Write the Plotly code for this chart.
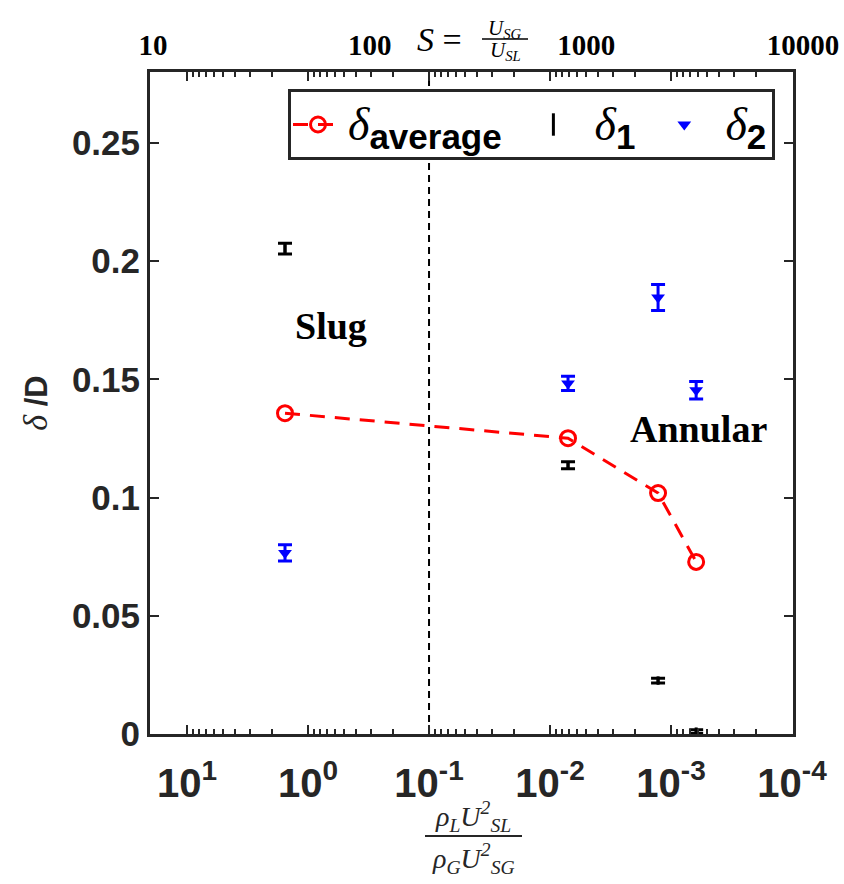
import plotly.graph_objects as go

# ---- data ----
ratio_x = [1.55, 0.0071, 0.00128, 0.00062]          # rho_L U_SL^2 / rho_G U_SG^2
delta_avg = [0.1357, 0.1251, 0.1019, 0.0728]
delta1 = [0.2053, 0.1137, 0.0226, 0.0010]
delta1_err = [0.0023, 0.0015, 0.0010, 0.0008]
delta2 = [0.0766, 0.1483, 0.1846, 0.1454]
delta2_err = [0.0034, 0.0030, 0.0055, 0.0037]
boundary_x = [0.1, 0.1]
boundary_y = [0.0, 0.28]

x_tickvals = [10, 1, 0.1, 0.01, 0.001, 0.0001]
x_ticktext = ["10<sup>1</sup>", "10<sup>0</sup>", "10<sup>-1</sup>", "10<sup>-2</sup>",
              "10<sup>-3</sup>", "10<sup>-4</sup>"]
x_minor_tickvals = [m * d for d in [10, 1, 0.1, 0.01, 0.001, 0.0001] for m in range(2, 10)]
y_tickvals = [0, 0.05, 0.1, 0.15, 0.2, 0.25]
y_ticktext = ["0", "0.05", "0.1", "0.15", "0.2", "0.25"]
s_tickvals = [10, 100, 1000, 10000]
s_ticktext = ["10", "100", "1000", "10000"]

SANS = "Liberation Sans, Arial, sans-serif"
SERIF = "Liberation Serif, Times New Roman, serif"


def pad(npx):
    n = max(1, round(npx / 2.78))
    return "<span style='font-size:10px'>" + "\u00a0" * n + "</span>"


def delta_name(sub, dsize=46, ssize=35):
    return ("<span style='font-family:Liberation Serif;font-style:italic;font-weight:normal;"
            f"font-size:{dsize}px'>δ</span><sub><span style='font-weight:bold;font-size:{ssize}px'>"
            f"{sub}</span></sub>")


fig = go.Figure()

fig.add_trace(go.Scatter(
    x=boundary_x, y=boundary_y, mode="lines", showlegend=False, hoverinfo="skip",
    line=dict(color="black", width=2, dash="7px,5px")))

fig.add_trace(go.Scatter(
    x=ratio_x, y=delta_avg, mode="lines+markers",
    name=delta_name("average") + pad(17),
    line=dict(color="#ff0000", width=3, dash="15px,10px"),
    marker=dict(symbol="circle-open", size=15, color="#ff0000", line=dict(width=3, color="#ff0000"))))

fig.add_trace(go.Scatter(
    x=ratio_x, y=delta1, mode="markers", showlegend=False, legendgroup="d1",
    marker=dict(symbol="line-ns", size=6, color="black", line=dict(width=3, color="black")),
    error_y=dict(type="data", array=delta1_err, visible=True, color="black", thickness=3, width=7)))
fig.add_trace(go.Scatter(
    x=[None], y=[None], mode="markers", legendgroup="d1",
    name=pad(10) + delta_name("1") + pad(13),
    marker=dict(symbol="line-ns", size=16, color="black", line=dict(width=3, color="black"))))

fig.add_trace(go.Scatter(
    x=ratio_x, y=delta2, mode="markers",
    name=pad(10) + delta_name("2"),
    marker=dict(symbol="triangle-down", size=12, color="#0000ff"),
    error_y=dict(type="data", array=delta2_err, visible=True, color="#0000ff", thickness=3, width=7)))

# dummy trace to carry the top S axis
fig.add_trace(go.Scatter(x=s_tickvals, y=[None] * 4, xaxis="x2", yaxis="y",
                         mode="markers", showlegend=False, hoverinfo="skip"))

W, H = 844, 884
L, R, T, B = 150, 30, 72, 150
PW = W - L - R
PH = H - T - B


def px(xp):
    return (xp - L) / PW


def py(yp):
    return (H - B - yp) / PH


fig.update_layout(
    width=W, height=H,
    margin=dict(l=L, r=R, t=T, b=B, autoexpand=False),
    paper_bgcolor="white", plot_bgcolor="rgba(0,0,0,0)",
    showlegend=True,
    legend=dict(orientation="h", x=px(288), y=py(89), xanchor="left", yanchor="top",
                bgcolor="white", bordercolor="#262626", borderwidth=3,
                font=dict(family=SANS, size=40, color="black"),
                itemwidth=50, tracegroupgap=0),
    xaxis=dict(type="log", range=[1.306, -4.008], domain=[0, px(793)],
               tickvals=x_tickvals, ticktext=x_ticktext,
               tickfont=dict(family=SANS, size=40, color="#262626", weight="bold"),
               ticks="inside", ticklen=9, tickwidth=2, tickcolor="#262626",
               ticklabelstandoff=12,
               minor=dict(tickvals=x_minor_tickvals, ticks="inside", ticklen=5, tickwidth=1.5,
                          tickcolor="#262626", showgrid=False),
               showline=True, linecolor="#262626", linewidth=3, mirror="ticks",
               showgrid=False, zeroline=False, anchor="y", automargin=False),
    xaxis2=dict(type="log", range=[1, 4], domain=[px(153), px(803)],
                tickvals=s_tickvals, ticktext=s_ticktext, side="top", anchor="y",
                tickfont=dict(family=SERIF, size=29, color="black", weight="bold"),
                ticks="", showline=False, showgrid=False, zeroline=False,
                ticklabelstandoff=10, automargin=False),
    yaxis=dict(range=[0, 0.28], tickvals=y_tickvals, ticktext=y_ticktext,
               tickfont=dict(family=SANS, size=35, color="#262626", weight="bold"),
               ticks="inside", ticklen=9, tickwidth=2, tickcolor="#262626",
               showline=True, linecolor="#262626", linewidth=3, mirror="ticks",
               showgrid=False, zeroline=False, automargin=False,
               title=dict(text="<span style='font-family:Liberation Serif;font-style:italic;"
                               "font-weight:normal;font-size:34px'>δ</span> /D",
                          font=dict(family=SANS, size=31, color="#262626", weight="bold"),
                          standoff=16)),
)

ann = []


def add_text(text, xp, yp, family, size, color="black"):
    ann.append(dict(text=text, x=px(xp), y=py(yp), xref="paper", yref="paper",
                    xanchor="center", yanchor="middle", showarrow=False,
                    font=dict(family=family, size=size, color=color)))


add_text("<b>Slug</b>", 331, 326, SERIF, 38)
add_text("<b>Annular</b>", 698, 429, SERIF, 38)
# bottom axis title (fraction)
add_text("<i>ρ<sub>L</sub>U<sup>2</sup><sub>SL</sub></i>", 473, 816, SERIF, 28, "#262626")
add_text("<i>ρ<sub>G</sub>U<sup>2</sup><sub>SG</sub></i>", 473, 858, SERIF, 28, "#262626")
# top axis title
add_text("<i>S</i> =", 439, 40, SERIF, 34)
add_text("<i>U<sub>SG</sub></i>", 505, 29, SERIF, 21)
add_text("<i>U<sub>SL</sub></i>", 505, 51, SERIF, 21)
fig.update_layout(annotations=ann)

fig.add_shape(type="line", xref="paper", yref="paper", x0=px(425), x1=px(522),
              y0=py(836), y1=py(836), line=dict(color="#262626", width=2))
fig.add_shape(type="line", xref="paper", yref="paper", x0=px(482), x1=px(528),
              y0=py(39), y1=py(39), line=dict(color="black", width=1.5))

fig.write_html("out.html")
